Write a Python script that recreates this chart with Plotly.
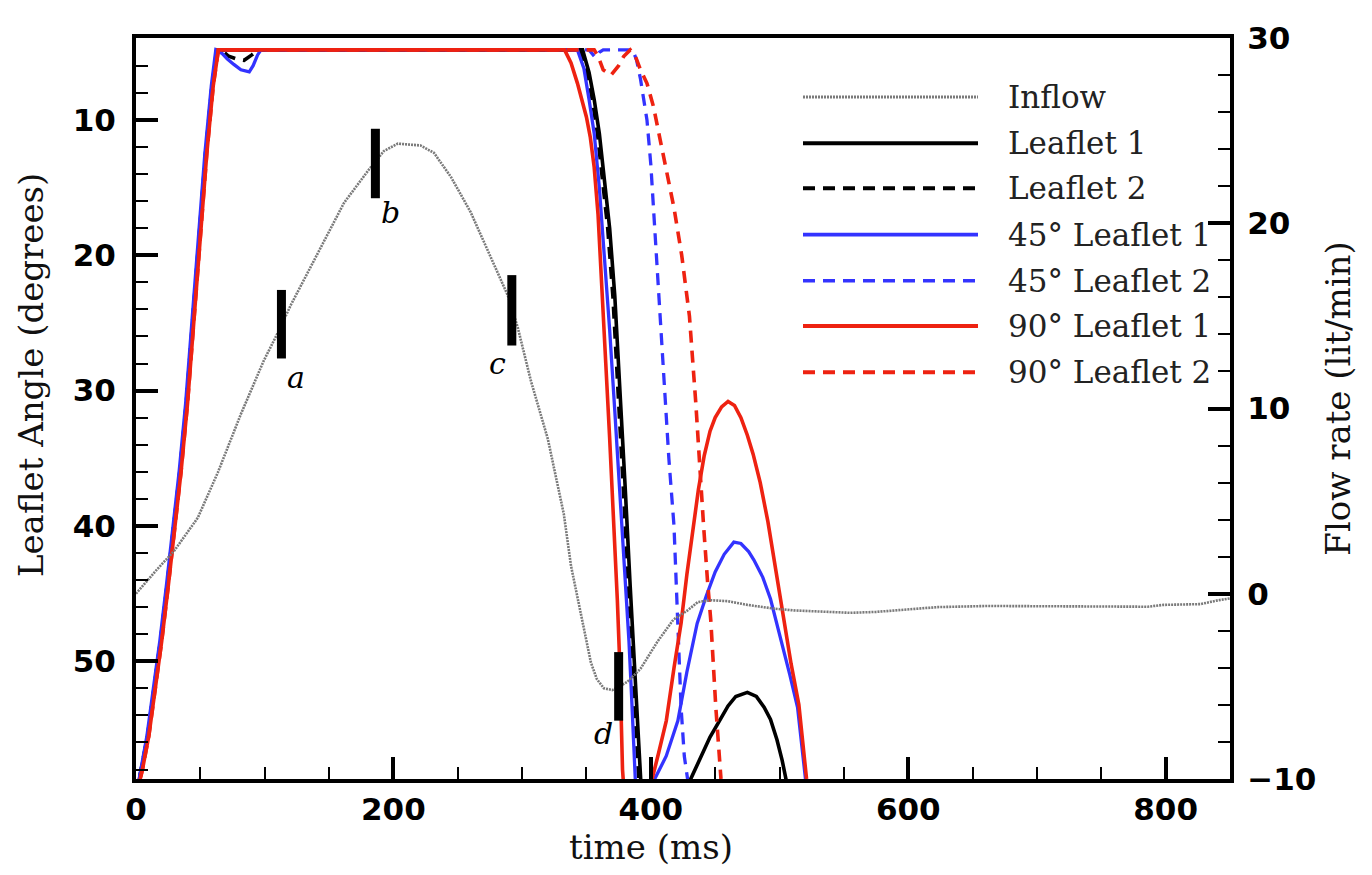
import plotly.graph_objects as go

# ---------------- data ----------------
# Inflow (right axis, lit/min)
inflow_t = [0, 8, 15.5, 29.5, 48, 63.6, 81.5, 99.4, 111, 120.4, 141.4, 161.6, 181, 192.6,
            203.5, 221, 231.5, 244.7, 260, 275.7, 288.9, 296.7, 306.8, 320, 332.4, 338,
            343.3, 348, 353.4, 358, 363.5, 370, 376, 381.8, 392, 405, 417.5, 428.5, 436.5,
            446.6, 459.8, 475, 495.5, 511, 537.5, 555, 575, 594, 623, 662, 700, 775, 786,
            798.5, 827, 841, 850]
inflow_q = [0.0, 0.66, 1.25, 2.3, 4.1, 6.55, 9.7, 12.6, 14.2, 15.6, 18.4, 21.1, 22.9, 23.9,
            24.3, 24.2, 23.8, 22.5, 20.6, 18.2, 16.1, 14.35, 11.5, 8.35, 4.3, 1.5,
            -0.3, -2.0, -3.7, -4.6, -5.1, -5.2, -5.0, -4.75, -4.05, -2.6, -1.4, -0.9, -0.45,
            -0.35, -0.4, -0.6, -0.8, -0.9, -0.98, -1.03, -0.98, -0.87, -0.72, -0.66, -0.66, -0.66, -0.7,
            -0.6, -0.56, -0.35, -0.25]

# Leaflet angles (left axis, degrees)
l1_t = [0, 4.3, 9.3, 14.3, 19.3, 24.3, 29.3, 34.3, 39.3, 44.3, 49.3, 54.3, 59.3, 63.3,
        347, 352, 356, 360, 364, 368, 372, 376, 380, 384, 387, 390, 392, 394, 405, 420,
        431, 438, 446, 454, 460, 466, 475, 482, 488, 493, 498, 502, 505, 508]
l1_a = [60, 58, 55.5, 52, 48.5, 44.5, 40.5, 36, 31, 25, 18.5, 12.5, 7.5, 4.83,
        4.83, 6.5, 8.5, 11, 14.5, 18, 23, 29.5, 37, 44.5, 49.5, 54, 58, 62, 64, 62,
        58.7, 57.3, 55.6, 54.3, 53.3, 52.6, 52.3, 52.6, 53.4, 54.3, 55.8, 57.3, 58.7, 61]

l2_t = [0, 4, 9, 14, 19, 24, 29, 34, 39, 44, 49, 54, 59, 63,
        67, 72, 78, 84, 90, 95, 345, 350.5, 354.5, 358.5, 362.5, 366.5, 370.5, 374.5,
        378.5, 382.5, 385.5, 388.5, 390.5, 392.5, 420]
l2_a = [60, 58, 55.5, 52, 48.5, 44.5, 40.5, 36, 31, 25, 18.5, 12.5, 7.5, 4.83,
        4.9, 5.3, 5.5, 5.6, 5.2, 4.83, 4.83, 6.5, 8.5, 11, 14.5, 18, 23, 29.5,
        37, 44.5, 49.5, 54, 58, 62, 63]

b1_t = [0, 3.5, 8.5, 13.5, 18.5, 23.5, 28.5, 33.5, 38.5, 43.5, 48.5, 53.5, 58.5, 62,
        67, 71, 76, 81.5, 88, 91, 94.5, 97, 343, 348, 352, 356, 360, 364, 368, 372,
        376, 380, 383, 385, 387, 389, 394, 398, 403, 412, 421, 428, 436, 443, 450,
        457, 464.5, 470, 476, 480, 487, 493, 498, 503, 508, 514, 517, 520, 524]
b1_a = [60, 58, 55.5, 52, 48.5, 44.5, 40.5, 36, 31, 25, 18.5, 12.5, 7.5, 4.83,
        5.1, 5.5, 5.9, 6.3, 6.45, 6.0, 5.2, 4.85, 4.83, 6.2, 8.5, 11, 15, 20, 25.5, 31.5,
        37.5, 44, 48.5, 52.5, 57, 61, 64, 61.5, 58.7, 57, 54.4, 50.8, 47.2, 45.2, 43.4,
        42.1, 41.2, 41.3, 41.9, 42.5, 43.8, 45.4, 47.2, 49, 51, 53.4, 56, 59, 62]

b2_t = [0, 4, 9, 14, 19, 24, 29, 34, 39, 44, 49, 54, 59, 62.5,
        352, 355, 357, 360, 363, 386, 389, 392, 395, 397, 400, 402, 405, 408, 411, 414,
        418, 421, 423.5, 426, 428.5, 432]
b2_a = [60, 58, 55.5, 52, 48.5, 44.5, 40.5, 36, 31, 25, 18.5, 12.5, 7.5, 4.83,
        4.83, 5.2, 5.4, 5.0, 4.83, 4.83, 5.6, 7, 9.0, 10, 13.3, 16.4, 20.5, 25, 30, 35,
        40, 47, 53.4, 57, 58.7, 61]

r1_t = [0, 5, 10, 15, 20, 25, 30, 35, 40, 45, 50, 55, 60, 64,
        333, 338, 343, 347, 350, 353, 356, 359, 362, 365, 368, 371, 374, 376, 378,
        381, 386, 392, 397, 401, 406, 412, 418, 423.5, 428, 433, 437, 441.5, 446, 450,
        455, 460, 465, 470, 475, 479.5, 485, 491, 497, 503, 509, 515, 521, 526]
r1_a = [60, 58, 55.5, 52, 48.5, 44.5, 40.5, 36, 31, 25, 18.5, 12.5, 7.5, 4.83,
        4.83, 5.8, 7.3, 8.6, 9.8, 11.3, 13.5, 17, 22, 28, 33.5, 39, 45.5, 50.5, 58,
        62, 64, 63.5, 61, 58.7, 56.8, 54.4, 50.5, 47.2, 43.6, 39.9, 37.3, 34.8, 33.0, 32.0,
        31.2, 30.8, 31.1, 32.0, 33.3, 34.7, 36.8, 39.7, 43.2, 46.9, 50.2, 53.2, 58.7, 62]

r2_t = [0, 5, 10, 15, 20, 25, 30, 35, 40, 45, 50, 55, 60, 64,
        356, 359, 363, 369, 375, 379, 384, 388, 392, 397, 402, 407, 412, 418, 424, 430,
        435, 439, 441, 444, 446.6, 450.5, 454.5, 458]
r2_a = [60, 58, 55.5, 52, 48.5, 44.5, 40.5, 36, 31, 25, 18.5, 12.5, 7.5, 4.83,
        4.83, 5.3, 6.3, 6.7, 6.0, 5.3, 4.83, 5.3, 6.3, 7.3, 9.0, 11.3, 13.5, 16.5, 20, 24.5,
        31, 37.5, 40, 44, 47, 53.4, 58.7, 61]

# Event markers on the inflow curve (time, flow-rate span)
mark_labels = ["a", "b", "c", "d"]
mark_t = [113, 186, 292, 375]
mark_lo = [12.7, 21.35, 13.4, -6.85]
mark_hi = [16.4, 25.1, 17.2, -3.15]
mark_text_t = [124.3, 198, 281, 363.5]
mark_text_q = [11.7, 20.56, 12.44, -7.56]

legend_names = ["Inflow", "Leaflet 1", "Leaflet 2", "45° Leaflet 1", "45° Leaflet 2",
                "90° Leaflet 1", "90° Leaflet 2"]

# ---------------- styles ----------------
BLUE = "#3333ff"
RED = "#ee2211"
GRAY = "#7a7a7a"
DASH = "12px,8px"
styles = [
    dict(color=GRAY, width=2.6, dash="2px,1px"),
    dict(color="black", width=3.6, dash="solid"),
    dict(color="black", width=3.6, dash=DASH),
    dict(color=BLUE, width=3.3, dash="solid"),
    dict(color=BLUE, width=3.3, dash=DASH),
    dict(color=RED, width=3.6, dash="solid"),
    dict(color=RED, width=3.6, dash=DASH),
]

fig = go.Figure()

fig.add_trace(go.Scatter(x=inflow_t, y=inflow_q, mode="lines", yaxis="y2",
                         line=styles[0], name=legend_names[0]))
series = [(l1_t, l1_a), (l2_t, l2_a), (b1_t, b1_a), (b2_t, b2_a), (r1_t, r1_a), (r2_t, r2_a)]
for i, (tt, aa) in enumerate(series):
    fig.add_trace(go.Scatter(x=tt, y=aa, mode="lines", yaxis="y",
                             line=styles[i + 1], name=legend_names[i + 1]))

# marker bars
bx, by = [], []
for t, lo, hi in zip(mark_t, mark_lo, mark_hi):
    bx += [t, t, None]
    by += [lo, hi, None]
fig.add_trace(go.Scatter(x=bx, y=by, mode="lines", yaxis="y2",
                         line=dict(color="black", width=9), showlegend=False))

annotations = []
for lab, t, q in zip(mark_labels, mark_text_t, mark_text_q):
    annotations.append(dict(x=t, y=q, xref="x", yref="y2", text="<i>" + lab + "</i>",
                            xanchor="center", yanchor="middle",
                            showarrow=False, font=dict(family="DejaVu Serif", size=30, color="black")))

# plot-area geometry in page pixels (with compensation for page offset)
DX, DY = 7, 8
L, R, T, B = 135, 1229, 25, 779
W, H = R - L, B - T

# manual legend (long sample lines)
shapes = []
row_px = [85, 132, 178, 225, 272, 318, 365]
for name, st, py in zip(legend_names, styles, row_px):
    yp = (B - py) / H
    shapes.append(dict(type="line", xref="paper", yref="paper",
                       x0=(802 - L) / W, x1=(977 - L) / W, y0=yp, y1=yp,
                       line=dict(color=st["color"], width=st["width"] + 0.4, dash=st["dash"])))
    annotations.append(dict(x=(1005 - L) / W, y=yp, xref="paper", yref="paper", text=name,
                            xanchor="left", yanchor="middle", showarrow=False,
                            font=dict(family="DejaVu Serif", size=31, color="#222")))

# axis titles
title_font = dict(family="DejaVu Serif", size=34, color="#111")
annotations.append(dict(x=(650 - L) / W, y=(B - 848) / H, xref="paper", yref="paper",
                        xanchor="center", yanchor="middle",
                        text="time (ms)", showarrow=False, font=title_font))
annotations.append(dict(x=(30 - L) / W, y=(B - 368) / H, xref="paper", yref="paper",
                        xanchor="center", yanchor="middle",
                        text="Leaflet Angle (degrees)", textangle=-90, showarrow=False, font=title_font))
annotations.append(dict(x=(1337 - L) / W, y=(B - 392) / H, xref="paper", yref="paper",
                        xanchor="center", yanchor="middle",
                        text="Flow rate (lit/min)", textangle=-90, showarrow=False, font=title_font))

tick_font = dict(family="DejaVu Sans", size=31, color="black", weight="bold")

fig.update_layout(
    width=1372, height=875,
    margin=dict(l=L - DX, r=1372 - R + DX, t=T - DY, b=875 - B + DY, pad=0),
    paper_bgcolor="white", plot_bgcolor="white",
    showlegend=False,
    xaxis=dict(range=[0, 850], tickvals=[0, 200, 400, 600, 800], ticks="inside",
               ticklen=22, tickwidth=4, tickcolor="black",
               minor=dict(dtick=50, tick0=0, ticks="inside", ticklen=12, tickwidth=2, tickcolor="black"),
               showline=True, linewidth=4, linecolor="black", mirror=True,
               showgrid=False, zeroline=False, tickfont=tick_font, ticklabelstandoff=0,
               ticklabeloverflow="allow"),
    yaxis=dict(range=[58.7, 3.95], tickvals=[10, 20, 30, 40, 50], ticks="inside",
               ticklen=22, tickwidth=4, tickcolor="black",
               minor=dict(dtick=2, tick0=0, ticks="inside", ticklen=12, tickwidth=2, tickcolor="black"),
               showline=True, linewidth=4, linecolor="black",
               showgrid=False, zeroline=False, tickfont=tick_font, ticklabelstandoff=10,
               ticklabeloverflow="allow"),
    yaxis2=dict(range=[-10, 30], tickvals=[-10, 0, 10, 20, 30], overlaying="y", side="right",
                ticks="inside", ticklen=22, tickwidth=4, tickcolor="black",
                minor=dict(dtick=2, tick0=0, ticks="inside", ticklen=12, tickwidth=2, tickcolor="black"),
                showline=True, linewidth=4, linecolor="black",
                showgrid=False, zeroline=False, tickfont=tick_font, ticklabelstandoff=7,
                ticklabeloverflow="allow"),
    shapes=shapes,
    annotations=annotations,
)

fig.write_html("out.html")
